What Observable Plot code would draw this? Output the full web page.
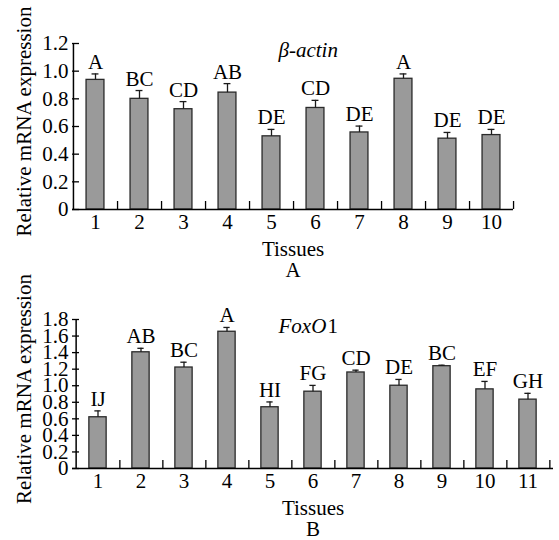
<!DOCTYPE html>
<html>
<head>
<meta charset="utf-8">
<script src="https://cdn.jsdelivr.net/npm/d3@7"></script>
<script src="https://cdn.jsdelivr.net/npm/@observablehq/plot@0.6"></script>
<style>
  body { margin: 0; background: #fff; }
  #chart svg { display: block; overflow: visible; }
</style>
</head>
<body>
<div id="chart"></div>
<script>
// Panel A: beta-actin
const tissuesA = [1, 2, 3, 4, 5, 6, 7, 8, 9, 10];
const meanA = [0.937, 0.80, 0.725, 0.845, 0.529, 0.734, 0.557, 0.945, 0.512, 0.538];
const errA = [0.043, 0.06, 0.055, 0.065, 0.05, 0.055, 0.046, 0.035, 0.045, 0.041];
const letterA = ["A", "BC", "CD", "AB", "DE", "CD", "DE", "A", "DE", "DE"];
const yTicksA = [0, 0.2, 0.4, 0.6, 0.8, 1.0, 1.2];

// Panel B: FoxO1
const tissuesB = [1, 2, 3, 4, 5, 6, 7, 8, 9, 10, 11];
const meanB = [0.619, 1.404, 1.22, 1.652, 0.74, 0.928, 1.16, 1.0, 1.236, 0.956, 0.832];
const errB = [0.077, 0.048, 0.064, 0.052, 0.064, 0.076, 0.028, 0.076, 0.012, 0.096, 0.076];
const letterB = ["IJ", "AB", "BC", "A", "HI", "FG", "CD", "DE", "BC", "EF", "GH"];
const yTicksB = [0, 0.2, 0.4, 0.6, 0.8, 1.0, 1.2, 1.4, 1.6, 1.8];

const yLabel = "Relative mRNA expression";
const xLabel = "Tissues";

function panel({tissues, mean, err, letters, yTicks, width, height, mt, mb, ml, mr, title, titleSub, tag}) {
  const data = tissues.map((t, i) => ({tissue: t, mean: mean[i], err: err[i], top: mean[i] + err[i], letter: letters[i]}));
  const plotW = width - ml - mr;
  const plotH = height - mt - mb;
  const bw = plotW / tissues.length;
  const barW = 18, capW = 7;
  const marks = [
    Plot.barY(data, {x: "tissue", y: "mean", fill: "#9a9a9a", stroke: "#2a2a2a", strokeWidth: 1.3,
      insetLeft: (bw - barW) / 2, insetRight: (bw - barW) / 2}),
    Plot.ruleX(data, {x: "tissue", y1: "mean", y2: "top", stroke: "#1a1a1a", strokeWidth: 1.3}),
    Plot.tickY(data, {x: "tissue", y: "top", stroke: "#1a1a1a", strokeWidth: 1.3,
      insetLeft: (bw - capW) / 2, insetRight: (bw - capW) / 2}),
    Plot.text(data, {x: "tissue", y: "top", text: "letter", lineAnchor: "bottom", dy: -5, fill: "#000"}),
    // axis lines
    Plot.ruleY([0], {stroke: "#000", strokeWidth: 1.5}),
    Plot.tickX([tissues[0]], {x: d => d, dx: -bw / 2, stroke: "#000", strokeWidth: 1.5}),
    // inward y ticks
    Plot.tickY(yTicks, {y: d => d, insetRight: plotW - 7, stroke: "#000", strokeWidth: 1.3}),
    // inward x ticks at band boundaries
    Plot.tickX(tissues, {x: d => d, dx: bw / 2, insetTop: plotH - 8, stroke: "#000", strokeWidth: 1.3}),
    Plot.axisY({ticks: yTicks, tickSize: 0, tickPadding: 4, tickFormat: d => d === 0 ? "0" : d.toFixed(1), label: null}),
    Plot.axisX({tickSize: 0, tickPadding: 5, label: null}),
    Plot.text([yLabel], {frameAnchor: "left", textAnchor: "middle", lineAnchor: "middle", rotate: -90, dx: -48, dy: -5, fill: "#000"}),
    Plot.text([xLabel], {frameAnchor: "bottom", lineAnchor: "bottom", dy: 46, fill: "#000"}),
    Plot.text([tag], {frameAnchor: "bottom", lineAnchor: "bottom", dy: 67, fill: "#000"}),
    Plot.text([title], {frameAnchor: "top-left", textAnchor: "start", lineAnchor: "middle", dx: 206, dy: 7, fontStyle: "italic", fill: "#000"})
  ];
  if (titleSub) {
    marks.push(Plot.text([titleSub], {frameAnchor: "top-left", textAnchor: "start", lineAnchor: "middle", dx: 255, dy: 7, fill: "#000"}));
  }
  return Plot.plot({
    width, height,
    marginTop: mt, marginBottom: mb, marginLeft: ml, marginRight: mr,
    style: {fontFamily: "'Liberation Serif', 'Times New Roman', serif", fontSize: "21px", color: "#000", overflow: "visible"},
    x: {type: "band", domain: tissues, padding: 0, axis: null},
    y: {domain: [0, yTicks[yTicks.length - 1]], axis: null},
    marks
  });
}

const chart = document.getElementById("chart");
chart.appendChild(panel({tissues: tissuesA, mean: meanA, err: errA, letters: letterA, yTicks: yTicksA,
  width: 559, height: 280, mt: 43, mb: 71, ml: 72, mr: 46, title: "β-actin", tag: "A"}));
chart.appendChild(panel({tissues: tissuesB, mean: meanB, err: errB, letters: letterB, yTicks: yTicksB,
  width: 559, height: 260, mt: 39, mb: 72, ml: 72, mr: 6, title: "FoxO", titleSub: "1", tag: "B"}));
</script>
</body>
</html>
